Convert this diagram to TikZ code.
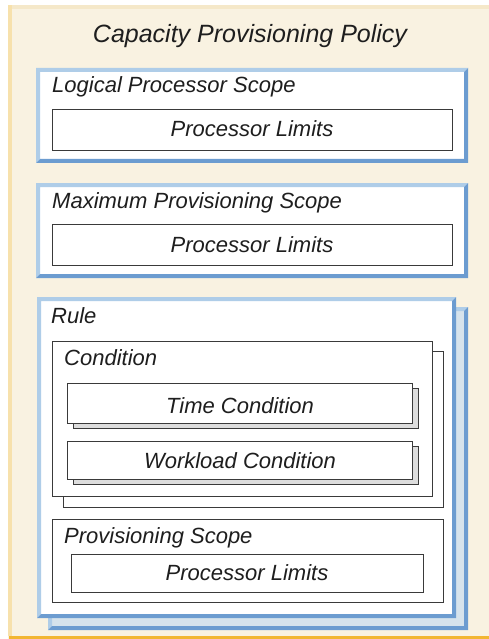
\documentclass[tikz,border=0pt]{standalone}
\usepackage{fontspec}
\setmainfont{Liberation Sans}
\definecolor{cream}{HTML}{F9F2E1}
\definecolor{creamtop}{HTML}{F5E8C9}
\definecolor{creamleft}{HTML}{F7E1AC}
\definecolor{orangeline}{HTML}{F2B632}
\definecolor{bllight}{HTML}{AFCDE8}
\definecolor{bldark}{HTML}{6C9CD0}
\definecolor{blfill}{HTML}{D6E3EC}
\definecolor{boxline}{HTML}{3A3A3A}
\definecolor{shadowgray}{HTML}{DDDDDD}
\definecolor{txt}{HTML}{1E1E1E}
\newcommand{\bevelbox}[5]{% x1 y1 x2 y2 fill
  \fill[#5] (#1,#2) rectangle (#3,#4);
  \fill[bllight] (#1,#2) -- (#3,#2) -- (#3-4,#2+4) -- (#1+4,#2+4) -- (#1+4,#4-4) -- (#1,#4) -- cycle;
  \fill[bldark] (#3,#2) -- (#3,#4) -- (#1,#4) -- (#1+4,#4-4) -- (#3-4,#4-4) -- (#3-4,#2+4) -- cycle;
}
\tikzset{
  plainbox/.style={draw=boxline, line width=0.9pt, fill=white},
  shadowbox/.style={draw=boxline, line width=0.9pt, fill=shadowgray},
  label/.style={font=\fontsize{22}{26}\selectfont\itshape, text=txt, inner sep=0pt, anchor=base west},
  ctext/.style={font=\fontsize{22}{26}\selectfont\itshape, text=txt, inner sep=0pt, anchor=base},
  titletext/.style={font=\fontsize{25}{30}\selectfont\itshape, text=txt, inner sep=0pt, anchor=base}
}
\begin{document}
\begin{tikzpicture}[x=1pt,y=-1pt]
\useasboundingbox (0,0) rectangle (489,639);
% background panel
\fill[cream] (8,5) rectangle (489,639);
\fill[creamtop] (8,5) rectangle (489,9);
\fill[creamleft] (8,5) rectangle (12,636);
\fill[orangeline] (9,635.5) rectangle (489,639);
\node[titletext] (title) at (250,43) {Capacity Provisioning Policy};

% Logical Processor Scope
\bevelbox{36}{68}{468}{163}{white}
\node[label] (lps) at (52,93) {Logical Processor Scope};
\draw[plainbox] (52,109) rectangle (452,150);
\node[ctext] (pl1) at (252,137) {Processor Limits};

% Maximum Provisioning Scope
\bevelbox{36}{183}{468}{278}{white}
\node[label] (mps) at (52,208) {Maximum Provisioning Scope};
\draw[plainbox] (52,224) rectangle (452,265);
\node[ctext] (pl2) at (252,252) {Processor Limits};

% Rule
\bevelbox{48}{307}{468}{630}{blfill}
\bevelbox{37}{297}{456}{618}{white}
\node[label] (rule) at (51,323) {Rule};

% Condition
\draw[plainbox] (63,351) rectangle (443,507);
\draw[plainbox] (52,341) rectangle (432,496);
\node[label] (cond) at (64,365) {Condition};

\draw[shadowbox] (73,388) rectangle (418,428);
\draw[plainbox] (67,383) rectangle (412,423);
\node[ctext] (time) at (240,413) {Time Condition};

\draw[shadowbox] (73,446) rectangle (418,484);
\draw[plainbox] (67,441) rectangle (412,479);
\node[ctext] (work) at (240,468) {Workload Condition};

% Provisioning Scope
\draw[plainbox] (52,519) rectangle (443,602);
\node[label] (ps) at (64,543) {Provisioning Scope};
\draw[plainbox] (71,554) rectangle (423,592);
\node[ctext] (pl3) at (247,580) {Processor Limits};
\end{tikzpicture}
\end{document}
